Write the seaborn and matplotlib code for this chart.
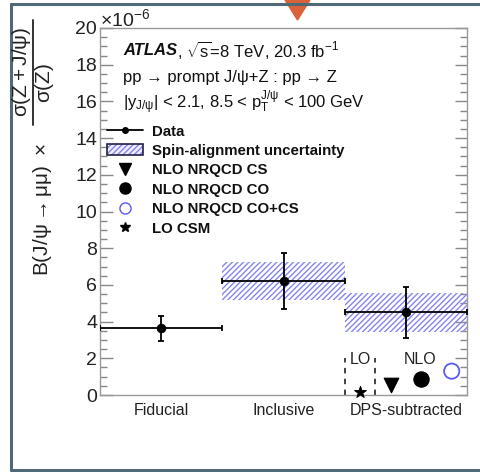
import matplotlib
matplotlib.use("Agg")
import matplotlib.pyplot as plt
import matplotlib.ticker as mticker
from matplotlib.lines import Line2D
from matplotlib.patches import Patch, Polygon
from matplotlib.legend_handler import HandlerTuple
import seaborn as sns
import pandas as pd
import numpy as np

# ---- data (ratio in units of 10^-6) ----
categories = ["Fiducial", "Inclusive", "DPS-subtracted"]
data_val = [3.65, 6.2, 4.5]
data_err_lo = [0.70, 1.50, 1.40]
data_err_hi = [0.65, 1.52, 1.40]
spin_lo = [np.nan, 5.15, 3.42]
spin_hi = [np.nan, 7.27, 5.55]

theory_names = ["LO CSM", "NLO NRQCD CS", "NLO NRQCD CO", "NLO NRQCD CO+CS"]
theory_x = [2.125, 2.375, 2.625, 2.875]
theory_val = [0.15, 0.55, 0.85, 1.30]

sns.set_theme(style="white")
plt.rcParams["font.family"] = ["Liberation Sans", "DejaVu Sans"]
plt.rcParams["mathtext.fontset"] = "custom"
plt.rcParams["mathtext.rm"] = "Liberation Sans"
plt.rcParams["mathtext.it"] = "Liberation Sans:italic"
plt.rcParams["mathtext.bf"] = "Liberation Sans:bold"
plt.rcParams["mathtext.default"] = "regular"
plt.rcParams["hatch.linewidth"] = 1.0

W, H = 481, 472
fig = plt.figure(figsize=(W / 100, H / 100), dpi=100)
ax = fig.add_axes([100 / W, 1 - 395 / H, 367 / W, 367 / H])

band_col = "#8585ee"
xc = np.arange(len(categories)) + 0.5

# spin-alignment bands
for i in range(len(categories)):
    if not np.isnan(spin_lo[i]):
        ax.bar(xc[i], spin_hi[i] - spin_lo[i], bottom=spin_lo[i], width=1.0,
               color="none", edgecolor=band_col, linewidth=0, hatch="//////", zorder=1)

# data points
df = pd.DataFrame({"x": xc, "y": data_val, "cat": categories})
ax.errorbar(xc, data_val, xerr=0.5, yerr=[data_err_lo, data_err_hi], fmt="none",
            ecolor="black", elinewidth=1.3, capsize=2.5, capthick=1.3, zorder=3)
sns.scatterplot(data=df, x="x", y="y", ax=ax, color="black", s=40, zorder=4,
                edgecolor="black", legend=False)

# theory predictions
tdf = pd.DataFrame({"x": theory_x, "y": theory_val, "name": theory_names})
markers = {"LO CSM": "*", "NLO NRQCD CS": "v", "NLO NRQCD CO": "o", "NLO NRQCD CO+CS": "o"}
sizes = {"LO CSM": 80, "NLO NRQCD CS": 110, "NLO NRQCD CO": 120, "NLO NRQCD CO+CS": 120}
for _, r in tdf.iterrows():
    if r["name"] == "NLO NRQCD CO+CS":
        ax.scatter(r["x"], r["y"], marker="o", s=sizes[r["name"]], facecolor="none",
                   edgecolor="#5a5af0", linewidth=1.3, zorder=4, clip_on=False)
    else:
        sns.scatterplot(x=[r["x"]], y=[r["y"]], ax=ax, marker=markers[r["name"]],
                        s=sizes[r["name"]], color="black", edgecolor="black",
                        zorder=4, legend=False, clip_on=False)

# LO box dashed lines
for xv in [2.0, 2.25]:
    ax.plot([xv, xv], [0, 2.0], ls=(0, (3, 3)), color="#333333", lw=1.3, zorder=2)
ax.text(2.125, 1.95, "LO", ha="center", va="center", fontsize=11.5, color="#222222")
ax.text(2.62, 1.95, "NLO", ha="center", va="center", fontsize=11.5, color="#222222")

ax.set_xlim(0, 3)
ax.set_ylim(0, 20)
ax.set_xticks(xc)
ax.set_xticklabels(categories, fontsize=11.5, color="#222222")
ax.tick_params(axis="x", length=0, pad=6)
ax.set_xlabel("")
ax.set_ylabel("")

ax.yaxis.set_major_locator(mticker.MultipleLocator(2))
ax.yaxis.set_minor_locator(mticker.MultipleLocator(0.5))
ax.yaxis.set_major_formatter(mticker.FormatStrFormatter("%d"))
ax.tick_params(axis="y", which="both", direction="in", left=True, right=True,
               color="#888888", labelsize=14, labelcolor="#222222", pad=2)
ax.tick_params(axis="y", which="major", length=9, width=1)
ax.tick_params(axis="y", which="minor", length=5, width=1)
for s in ax.spines.values():
    s.set_color("#999999")
    s.set_linewidth(1.0)

ax.text(0.0, 0.995, r"$\times10^{-6}$", transform=ax.transAxes, fontsize=14,
        ha="left", va="bottom", color="#222222")

# y-axis title: B(J/psi->mumu) x sigma(Z+J/psi)/sigma(Z)
lab_kw = dict(rotation=90, ha="center", va="center", fontsize=15, color="#222222")
fig.text(21.5 / W, 1 - 72 / H, r"$\sigma(Z+J/\psi)$", **lab_kw)
fig.text(44 / W, 1 - 83 / H, r"$\sigma(Z)$", **lab_kw)
fig.add_artist(Line2D([33 / W, 33 / W], [1 - 20 / H, 1 - 125 / H],
                      transform=fig.transFigure, color="#222222", lw=1.3))
fig.text(43 / W, 1 - 210 / H, r"$B(J/\psi \rightarrow \mu\mu)\ \times$", **lab_kw)

# header text
t1 = ax.text(0.063, 0.94, "ATLAS", transform=ax.transAxes, fontsize=12,
             fontweight="bold", fontstyle="italic", va="center", ha="left", color="#111111")
ax.annotate(r", $\sqrt{s}$=8 TeV, 20.3 fb$^{-1}$", xy=(1, 0.5), xycoords=t1,
            va="center", ha="left", fontsize=12, color="#111111")
ax.text(0.063, 0.866, "pp \u2192 prompt J/\u03c8+Z : pp \u2192 Z",
        transform=ax.transAxes, fontsize=12, va="center", ha="left", color="#111111")
ax.text(0.063, 0.795, r"$|y_{J/\psi}|$ < 2.1, 8.5 < $p_{T}^{J/\psi}$ < 100 GeV",
        transform=ax.transAxes, fontsize=12, va="center", ha="left", color="#111111")

# legend
spin_handle = (Patch(facecolor="#eeeeff", edgecolor=band_col, hatch="//////", linewidth=0),
               Patch(facecolor="none", edgecolor="#222244", linewidth=1.2))
handles = [
    Line2D([0], [0], color="black", lw=1.3, marker="o", markersize=4),
    spin_handle,
    Line2D([0], [0], ls="none", marker="v", color="black", markersize=8),
    Line2D([0], [0], ls="none", marker="o", color="black", markersize=8),
    Line2D([0], [0], ls="none", marker="o", markerfacecolor="none",
           markeredgecolor="#5a5af0", markersize=8),
    Line2D([0], [0], ls="none", marker="*", color="black", markersize=7),
]
labels = ["Data", "Spin-alignment uncertainty", "NLO NRQCD CS", "NLO NRQCD CO",
          "NLO NRQCD CO+CS", "LO CSM"]
leg = ax.legend(handles, labels, loc="upper left", bbox_to_anchor=(0.02, 0.737),
                frameon=False, prop={"weight": "bold", "size": 10.8},
                handlelength=2.4, handletextpad=0.6, labelspacing=0.36,
                borderaxespad=0, borderpad=0,
                handler_map={tuple: HandlerTuple(ndivide=1, pad=0)})
for t in leg.get_texts():
    t.set_color("#111111")

# outer frame and marker (decorations of the reference image)
fig.add_artist(Line2D([11 / W, 11 / W], [1 - 4 / H, 1 - 470 / H],
                      transform=fig.transFigure, color="#4f6a76", lw=2.2))
fig.add_artist(Line2D([11 / W, 1.0], [1 - 4 / H, 1 - 4 / H],
                      transform=fig.transFigure, color="#4f6a76", lw=2.2))
fig.add_artist(Line2D([11 / W, 1.0], [1 - 470 / H, 1 - 470 / H],
                      transform=fig.transFigure, color="#4f6a76", lw=2.2))
fig.add_artist(Polygon([[285 / W, 1.0], [310 / W, 1.0], [297.5 / W, 1 - 20 / H]],
                       closed=True, transform=fig.transFigure, color="#d9623b"))

fig.savefig("out.png", dpi=100)
